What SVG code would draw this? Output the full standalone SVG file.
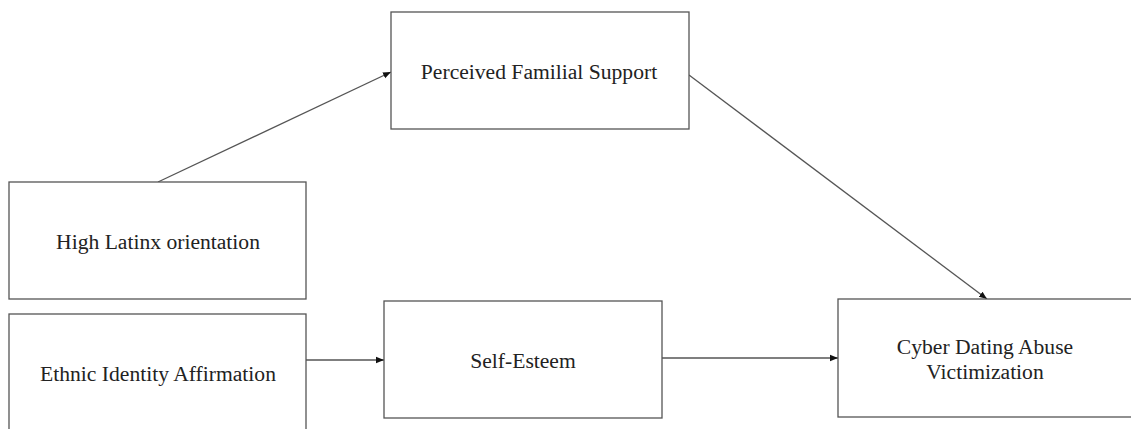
<svg xmlns="http://www.w3.org/2000/svg" width="1131" height="429" viewBox="0 0 1131 429">
<defs>
<style>
.box{fill:#fff;stroke:#555;stroke-width:1.3}
.lbl{font-family:"Liberation Serif","Times New Roman",serif;font-size:21.6px;fill:#222;text-anchor:middle}
.edge{stroke:#555;stroke-width:1.3;fill:none;marker-end:url(#ah)}
</style>
<marker id="ah" viewBox="0 0 10 10" refX="10" refY="5" markerWidth="8" markerHeight="8" markerUnits="userSpaceOnUse" orient="auto">
<path d="M0,1 L10,5 L0,9 z" fill="#111"/>
</marker>
</defs>
<rect width="1131" height="429" fill="#fff"/>
<g id="connectors">
<line class="edge" x1="158" y1="182" x2="391" y2="72"/>
<line class="edge" x1="689" y1="75" x2="987" y2="299"/>
<line class="edge" x1="306" y1="360" x2="384" y2="360"/>
<line class="edge" x1="662" y1="358" x2="838" y2="358"/>
</g>
<g id="n-perceived">
<rect class="box" x="391" y="12" width="298" height="117"/>
<text class="lbl" x="539" y="79">Perceived Familial  Support</text>
</g>
<g id="n-latinx">
<rect class="box" x="9" y="182" width="297" height="117"/>
<text class="lbl" x="158" y="249">High  Latinx orientation</text>
</g>
<g id="n-ethnic">
<rect class="box" x="9" y="314" width="297" height="130"/>
<text class="lbl" x="158" y="381">Ethnic Identity Affirmation</text>
</g>
<g id="n-selfesteem">
<rect class="box" x="384" y="301" width="278" height="117"/>
<text class="lbl" x="523" y="368">Self-Esteem</text>
</g>
<g id="n-cyber">
<rect class="box" x="838" y="299" width="300" height="118"/>
<text class="lbl" x="985" y="354">Cyber Dating Abuse</text>
<text class="lbl" x="985" y="379">Victimization</text>
</g>
</svg>
